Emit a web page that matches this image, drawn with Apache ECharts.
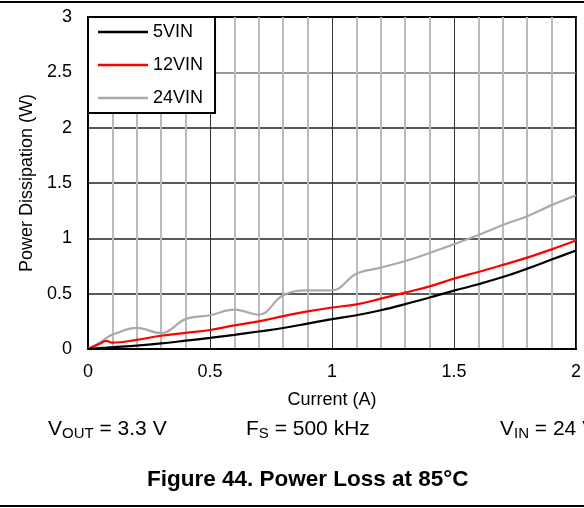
<!DOCTYPE html>
<html>
<head>
<meta charset="utf-8">
<script src="https://cdn.jsdelivr.net/npm/echarts@6/dist/echarts.min.js"></script>
<style>
  html, body { margin: 0; padding: 0; background: #fff; }
  #chart { width: 584px; height: 508px; }
</style>
</head>
<body>
<div id="chart"></div>
<script>
// current (A)
var currents = [0, 0.05, 0.075, 0.1, 0.2, 0.3, 0.4, 0.5, 0.6, 0.7, 0.8, 0.9, 1.0,
    1.1, 1.2, 1.3, 1.4, 1.5, 1.6, 1.7, 1.8, 1.9, 2.0];
// power dissipation (W)
var vin5 = [0, 0.008, 0.012, 0.016, 0.03, 0.05, 0.075, 0.1, 0.128, 0.158, 0.19, 0.23, 0.27,
    0.305, 0.35, 0.405, 0.465, 0.527, 0.585, 0.65, 0.726, 0.808, 0.89];
var vin12 = [0, 0.05, 0.074, 0.057, 0.083, 0.12, 0.146, 0.172, 0.213, 0.25, 0.297, 0.34, 0.375,
    0.403, 0.455, 0.51, 0.566, 0.636, 0.696, 0.76, 0.826, 0.9, 0.98];
var vin24 = [0, 0.06, 0.1, 0.13, 0.19, 0.143, 0.27, 0.305, 0.355, 0.31, 0.485, 0.53, 0.53,
    0.68, 0.735, 0.795, 0.868, 0.947, 1.03, 1.12, 1.2, 1.3, 1.39];
var seriesNames = ['5VIN', '12VIN', '24VIN'];
var seriesColors = ['#000000', '#ff0000', '#aaaaaa'];

function pairs(ys) {
    var out = [];
    for (var i = 0; i < currents.length; i++) {
        out.push([currents[i], ys[i]]);
    }
    return out;
}

var FONT = '"Liberation Sans", Arial, sans-serif';
var myChart = echarts.init(document.getElementById('chart'), null, { renderer: 'canvas' });

var allData = [vin5, vin12, vin24];
var series = [];
for (var k = 0; k < allData.length; k++) {
    series.push({
        name: seriesNames[k],
        type: 'line',
        data: pairs(allData[k]),
        symbol: 'none',
        smooth: 0.4,
        z: 5 - k,
        lineStyle: { color: seriesColors[k], width: 2.2 },
        itemStyle: { color: seriesColors[k] }
    });
}

// subscript text: main letter + small lowered part
var subRich = {
    a: { fontFamily: FONT, fontSize: 21, fill: '#000', lineHeight: 24 },
    s: { fontFamily: FONT, fontSize: 15, fill: '#000', padding: [9, 0, 0, 0] }
};

var option = {
    animation: false,
    backgroundColor: '#fff',
    textStyle: { fontFamily: FONT },
    grid: {
        left: 88, right: 7, top: 17, bottom: 159,
        show: true, borderColor: '#000', borderWidth: 2, backgroundColor: 'transparent'
    },
    legend: {
        orient: 'vertical',
        left: 88, top: 17,
        data: seriesNames,
        icon: 'rect',
        itemWidth: 50, itemHeight: 2.5, itemGap: 15,
        padding: [6, 12, 6, 10],
        backgroundColor: '#fff',
        borderColor: '#000', borderWidth: 2,
        textStyle: { fontFamily: FONT, fontSize: 18, lineHeight: 18, color: '#000' }
    },
    xAxis: {
        type: 'value',
        min: 0, max: 2, interval: 0.5,
        name: 'Current (A)',
        nameLocation: 'middle',
        nameGap: 42,
        nameTextStyle: { fontFamily: FONT, fontSize: 18, color: '#000' },
        axisLine: { show: true, lineStyle: { color: '#000', width: 2 } },
        axisTick: { show: false },
        axisLabel: { margin: 14, fontFamily: FONT, fontSize: 18, color: '#000' },
        splitLine: { show: true, lineStyle: { color: '#333', width: 1 } },
        minorTick: { show: false, splitNumber: 5 },
        minorSplitLine: { show: true, lineStyle: { color: '#bbbbbb', width: 2 } }
    },
    yAxis: {
        type: 'value',
        min: 0, max: 3, interval: 0.5,
        name: 'Power Dissipation (W)',
        nameLocation: 'middle',
        nameGap: 46,
        nameRotate: 90,
        nameTextStyle: { fontFamily: FONT, fontSize: 18, color: '#000' },
        axisLine: { show: true, lineStyle: { color: '#000', width: 2 } },
        axisTick: { show: false },
        axisLabel: { margin: 16, fontFamily: FONT, fontSize: 18, color: '#000' },
        splitLine: { show: true, lineStyle: { color: ['#000', '#222', '#222', '#222', '#222', '#777', '#000'], width: 1.5 } }
    },
    graphic: [
        { type: 'line', shape: { x1: 0, y1: 2, x2: 584, y2: 2 }, style: { stroke: '#000', lineWidth: 2 } },
        { type: 'line', shape: { x1: 0, y1: 506, x2: 584, y2: 506 }, style: { stroke: '#000', lineWidth: 2 } },
        { type: 'text', left: 48, top: 419, style: { text: '{a|V}{s|OUT}{a| = 3.3 V}', rich: subRich } },
        { type: 'text', left: 246, top: 419, style: { text: '{a|F}{s|S}{a| = 500 kHz}', rich: subRich } },
        { type: 'text', left: 500, top: 419, style: { text: '{a|V}{s|IN}{a| = 24 V}', rich: subRich } },
        {
            type: 'text', left: 147, top: 468,
            style: {
                text: 'Figure 44. Power Loss at 85°C',
                fontFamily: FONT, fontSize: 22.5, fontWeight: 'bold', fill: '#000'
            }
        }
    ],
    series: series
};

myChart.setOption(option);
</script>
</body>
</html>
